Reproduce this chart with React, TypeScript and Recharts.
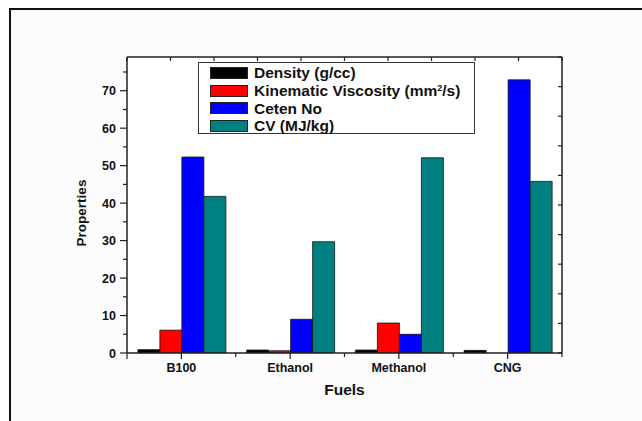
import { BarChart, Bar, XAxis, YAxis, Legend, CartesianGrid } from "recharts"

const fuels = ["B100", "Ethanol", "Methanol", "CNG"]
const density = [0.88, 0.79, 0.79, 0.7]
const viscosity = [6.1, 0.6, 8.0, 0]
const cetane = [52.3, 9.0, 5.0, 72.9]
const calorific = [41.8, 29.7, 52.1, 45.8]

const yMax = 79
const leftTicks = [0, 5, 10, 15, 20, 25, 30, 35, 40, 45, 50, 55, 60, 65, 70, 75, yMax]
const frameTicks = [0, 1, 2, 3, 4, 5, 6, 7, 8, 9, 10]

const series = [
  { key: "density", name: "Density (g/cc)", color: "#000000" },
  { key: "viscosity", name: "Kinematic Viscosity (mm²/s)", color: "#ff0000" },
  { key: "cetane", name: "Ceten No", color: "#0000ff" },
  { key: "cv", name: "CV (MJ/kg)", color: "#008080" },
]

const data = fuels.map((fuel, i) => ({
  fuel,
  density: density[i],
  viscosity: viscosity[i],
  cetane: cetane[i],
  cv: calorific[i],
}))

const FONT = "'Liberation Sans', Arial, sans-serif"
const AXIS = "#222"

const CHART_W = 642
const CHART_H = 421
const LEFT_W = 127
const RIGHT_M = 80
const PLOT_W = CHART_W - LEFT_W - RIGHT_M

function LeftTick(props: any) {
  const { x, y, payload } = props
  // the top of the value range closes the frame, with inward ticks like the original
  if (payload.value === yMax) {
    return (
      <g>
        <line x1={x} x2={x + PLOT_W} y1={y} y2={y} stroke={AXIS} strokeWidth={1.6} />
        {frameTicks.map((t) => (
          <line
            key={t}
            x1={x + (PLOT_W * t) / 10}
            x2={x + (PLOT_W * t) / 10}
            y1={y}
            y2={y + 4}
            stroke={AXIS}
            strokeWidth={1.2}
          />
        ))}
      </g>
    )
  }
  const major = payload.value % 10 === 0
  return (
    <g>
      <line x1={x - (major ? 7 : 4)} x2={x} y1={y} y2={y} stroke={AXIS} strokeWidth={1.2} />
      {major && (
        <text x={x - 11} y={y} dy={4.5} textAnchor="end" fontFamily={FONT} fontWeight="bold" fontSize={12.5} fill="#111">
          {payload.value}
        </text>
      )}
    </g>
  )
}

function BottomTick(props: any) {
  const { x, y, payload, index } = props
  const half = payload.offset || 54.4
  return (
    <g>
      <line x1={x} x2={x} y1={y} y2={y + 6} stroke={AXIS} strokeWidth={1.2} />
      <line x1={x + half} x2={x + half} y1={y} y2={y + 4} stroke={AXIS} strokeWidth={1.2} />
      {index === 0 && <line x1={x - half} x2={x - half} y1={y} y2={y + 6} stroke={AXIS} strokeWidth={1.2} />}
      <text x={x} y={y} dy={19} textAnchor="middle" fontFamily={FONT} fontWeight="bold" fontSize={12.5} fill="#111">
        {payload.value}
      </text>
    </g>
  )
}

function NoLabel() {
  return <g />
}

function LegendBox() {
  return (
    <div
      style={{
        width: 277,
        height: 72,
        border: "1px solid #333",
        background: "#fff",
        fontFamily: FONT,
        fontWeight: "bold",
        fontSize: 15.5,
        color: "#111",
        paddingTop: 1,
        boxSizing: "border-box",
      }}
    >
      {series.map((s) => (
        <div key={s.key} style={{ display: "flex", alignItems: "center", height: 17.8, paddingLeft: 11 }}>
          <span
            style={{
              display: "inline-block",
              width: 36,
              height: 10,
              background: s.color,
              border: "1px solid #222",
              marginRight: 6,
            }}
          />
          {s.key === "viscosity" ? (
            <span>
              Kinematic Viscosity (mm<sup style={{ fontSize: 9, verticalAlign: 5 }}>2</sup>/s)
            </span>
          ) : (
            <span>{s.name}</span>
          )}
        </div>
      ))}
    </div>
  )
}

export default function App() {
  return (
    <div style={{ position: "relative", width: CHART_W, height: CHART_H, overflow: "hidden", background: "#fff" }}>
      <style>{`body{margin:0;overflow:hidden}`}</style>
      <div
        style={{
          position: "absolute",
          left: 9,
          top: 8,
          width: 700,
          height: 500,
          border: "2.5px solid #111",
          background: "#fcfcfc",
        }}
      />
      <div style={{ position: "absolute", left: 0, top: 0 }}>
        <BarChart
          width={CHART_W}
          height={CHART_H}
          data={data}
          margin={{ top: 57, right: RIGHT_M, bottom: 0, left: 0 }}
          barCategoryGap="10%"
          barGap={0}
        >
          <CartesianGrid horizontal={false} vertical={false} fill="#fff" />
          <XAxis
            dataKey="fuel"
            height={68}
            tickSize={0}
            tickMargin={0}
            tickLine={false}
            axisLine={{ stroke: AXIS, strokeWidth: 1.5 }}
            tick={<BottomTick />}
            interval={0}
            label={{
              value: "Fuels",
              position: "insideTop",
              dy: 26,
              style: { fontFamily: FONT, fontWeight: "bold", fontSize: 15.5, fill: "#111" },
            }}
          />
          <YAxis
            domain={[0, yMax]}
            ticks={leftTicks}
            allowDataOverflow
            width={LEFT_W}
            tickSize={0}
            tickMargin={0}
            tickLine={false}
            interval={0}
            axisLine={{ stroke: AXIS, strokeWidth: 1.5 }}
            tick={<LeftTick />}
            label={{
              value: "Properties",
              angle: -90,
              position: "center",
              dx: 18,
              dy: 8,
              style: { fontFamily: FONT, fontWeight: "bold", fontSize: 13.5, fill: "#111" },
            }}
          />
          <YAxis
            yAxisId="right"
            orientation="right"
            type="number"
            domain={[0, 10]}
            allowDataOverflow
            ticks={frameTicks}
            interval={0}
            width={30}
            mirror
            tickSize={4}
            tick={<NoLabel />}
            tickLine={{ stroke: AXIS, strokeWidth: 1.2 }}
            axisLine={{ stroke: AXIS, strokeWidth: 1.5 }}
          />
          <Legend
            layout="vertical"
            align="center"
            verticalAlign="middle"
            content={<LegendBox />}
            wrapperStyle={{ left: 198, top: 62, width: 277 }}
          />
          {series.map((s) => (
            <Bar
              key={s.key}
              dataKey={s.key}
              name={s.name}
              fill={s.color}
              stroke="#111"
              strokeWidth={0.8}
              isAnimationActive={false}
            />
          ))}
        </BarChart>
      </div>
    </div>
  )
}
